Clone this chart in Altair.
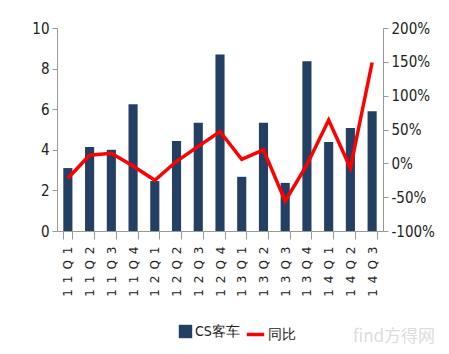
import altair as alt
import pandas as pd

quarters = ["11Q1", "11Q2", "11Q3", "11Q4", "12Q1", "12Q2", "12Q3", "12Q4",
            "13Q1", "13Q2", "13Q3", "13Q4", "14Q1", "14Q2", "14Q3"]
cs_bus = [3.1, 4.14, 4.0, 6.25, 2.46, 4.43, 5.33, 8.7,
          2.67, 5.33, 2.37, 8.36, 4.38, 5.07, 5.9]
yoy = [-0.22, 0.12, 0.15, -0.04, -0.25, 0.03, 0.25, 0.47,
       0.06, 0.20, -0.56, -0.02, 0.64, -0.07, 1.49]

df = pd.DataFrame({"q": quarters, "v": cs_bus, "r": yoy,
                   "s1": ["CS客车"] * 15, "s2": ["同比"] * 15})

FONT = "DejaVu Sans Condensed"
x = alt.X("q:N", sort=quarters, title=None,
          scale=alt.Scale(paddingInner=0.58, paddingOuter=0.29),
          axis=alt.Axis(labelAngle=270, labelFont="DejaVu Sans", labelFontSize=12,
                        labelColor="#222", labelPadding=7, tickBand="extent",
                        tickSize=8, tickColor="#999", domainColor="#999",
                        labelAlign="right", labelBaseline="middle",
                        labelExpr="join(split(datum.label, ''), '\u2002')"))

bars = alt.Chart(df).mark_bar(color="#243F64").encode(
    x=x,
    y=alt.Y("v:Q", title=None,
            scale=alt.Scale(domain=[0, 10]),
            axis=alt.Axis(values=[0, 2, 4, 6, 8, 10], grid=False, tickSize=5,
                          tickColor="#999", domainColor="#999", labelFont=FONT,
                          labelFontSize=15, labelColor="#222", labelPadding=3)),
    color=alt.Color("s1:N", scale=alt.Scale(range=["#243F64"]),
                    legend=alt.Legend(title=None, orient="none", legendX=121, legendY=296,
                                      symbolType="square", symbolSize=180,
                                      labelFont=FONT, labelFontSize=14, labelColor="#222",
                                      labelOffset=2)),
)

line = alt.Chart(df).mark_line(strokeWidth=3.5).encode(
    x=x,
    y=alt.Y("r:Q", title=None,
            scale=alt.Scale(domain=[-1, 2]),
            axis=alt.Axis(orient="right", values=[-1, -0.5, 0, 0.5, 1, 1.5, 2],
                          labelExpr="replace(format(datum.value, '.0%'), '\u2212', '-')",
                          grid=False, tickSize=5, tickColor="#999",
                          domainColor="#999", labelFont=FONT, labelFontSize=15,
                          labelColor="#222", labelPadding=3)),
    stroke=alt.Stroke("s2:N", scale=alt.Scale(range=["#FF0000"]),
                      legend=alt.Legend(title=None, orient="none", legendX=188, legendY=296,
                                        symbolType="stroke", symbolStrokeWidth=3.5,
                                        symbolSize=300, labelFont=FONT, labelFontSize=14,
                                        labelColor="#222", labelOffset=2)),
)

watermark = alt.Chart(pd.DataFrame({"t": ["find方得网"]})).mark_text(
    font="Noto Sans CJK SC", fontSize=17, color="#DDDDDD", align="left",
    baseline="middle").encode(text="t:N", x=alt.value(296), y=alt.value(309))

chart = alt.layer(bars, line, watermark).resolve_scale(
    y="independent", color="independent", stroke="independent"
).properties(
    width=326, height=203,
    autosize=alt.AutoSizeParams(type="none"),
    padding={"left": 57, "top": 28, "right": 66, "bottom": 123},
).configure(background="white", view=alt.ViewConfig(stroke=None))

chart.save("out.html", embed_options={"renderer": "svg", "actions": False})
